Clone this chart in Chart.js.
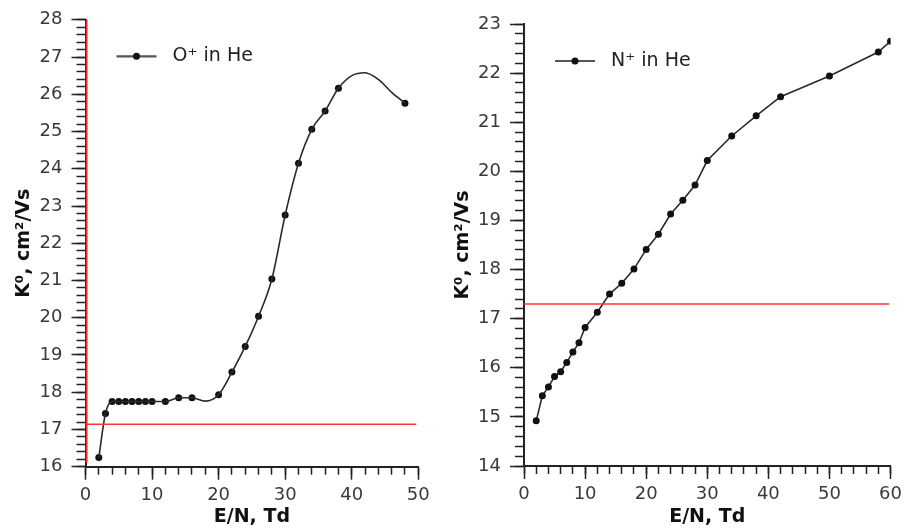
<!DOCTYPE html>
<html><head><meta charset="utf-8">
<script src="https://cdn.jsdelivr.net/npm/chart.js@4"></script>
<style>
html,body{margin:0;padding:0;background:#fff;width:907px;height:532px;overflow:hidden}
canvas{position:absolute;top:0}
#c1{left:0}
#c2{left:450px}
</style></head><body>
<canvas id="c1" width="450" height="532"></canvas>
<canvas id="c2" width="457" height="532"></canvas>
<script>
// ---------- Left panel: O+ in He ----------
const oxygenE = [2,3,4,5,6,7,8,9,10,12,14,16,20,22,24,26,28,30,32,34,36,38,48];
const oxygenK = [16.25,17.43,17.75,17.75,17.75,17.75,17.75,17.75,17.75,17.75,17.85,17.85,17.93,18.54,19.23,20.04,21.04,22.76,24.15,25.06,25.55,26.16,25.76];
// values read off the drawn smooth curve between markers (no marker there)
const oxygenCurveE = [18,40,42,44,46];
const oxygenCurveK = [17.76,26.5,26.58,26.4,26.05];
const oxygenRefK = [17.14,17.14];
const oxygenRefE = [0,49.7];
const oxygenVertE = [0.15,0.15];
const oxygenVertK = [16.1,28];
const leftXTicks = [0,10,20,30,40,50];
const leftYTicks = [16,17,18,19,20,21,22,23,24,25,26,27,28];

// ---------- Right panel: N+ in He ----------
const nitrogenE = [2,3,4,5,6,7,8,9,10,12,14,16,18,20,22,24,26,28,30,34,38,42,50,58,60];
const nitrogenK = [14.92,15.43,15.61,15.82,15.92,16.11,16.32,16.51,16.82,17.13,17.50,17.72,18.01,18.41,18.72,19.13,19.41,19.72,20.22,20.72,21.13,21.52,21.94,22.43,22.65];
const nitrogenRefK = [17.3,17.3];
const nitrogenRefE = [0,59.8];
const rightXTicks = [0,10,20,30,40,50,60];
const rightYTicks = [14,15,16,17,18,19,20,21,22,23];

// minor tick spacing per axis direction
const minorStepX = 2;
const minorStepY = 0.2;

const xyPairs = (xs, ys) => xs.map((x, i) => ({x, y: ys[i]}));
const merged = (xs1, ys1, xs2, ys2) => xyPairs(xs1, ys1).concat(xyPairs(xs2, ys2)).sort((a, b) => a.x - b.x);

Chart.defaults.font.family = '"DejaVu Sans", sans-serif';
Chart.defaults.animation = false;

function makeDecor(text, dy) {
  return {
    id: 'dec',
    afterDraw(chart) {
      const ctx = chart.ctx, a = chart.chartArea;
      const y = a.top + dy;
      ctx.save();
      ctx.strokeStyle = '#555';
      ctx.lineWidth = 2.2;
      ctx.beginPath(); ctx.moveTo(a.left + 31, y); ctx.lineTo(a.left + 71, y); ctx.stroke();
      ctx.fillStyle = '#111';
      ctx.beginPath(); ctx.arc(a.left + 51, y, 3.5, 0, Math.PI * 2); ctx.fill();
      ctx.font = '19px "DejaVu Sans"';
      ctx.fillStyle = '#222';
      ctx.textBaseline = 'middle';
      ctx.textAlign = 'left';
      ctx.fillText(text, a.left + 87, y);
      ctx.restore();
    }
  };
}

// main axis: labels + long major ticks (outer, weight 1)
function axisOpts(ticks, axis, fitSize, titleText, titlePad) {
  return {
    type: 'linear', position: axis === 'x' ? 'bottom' : 'left', weight: 1,
    min: ticks[0], max: ticks[ticks.length - 1],
    ticks: { stepSize: ticks[1] - ticks[0], color: '#3a3a3a', font: {size: 18}, padding: axis === 'x' ? 5 : 9 },
    grid: { drawOnChartArea: false, drawTicks: true, tickLength: axis === 'x' ? 13 : 14, tickColor: '#222', tickWidth: 1.5 },
    border: { color: '#222', width: 2 },
    title: { display: true, text: titleText, color: '#111', font: {size: 19, weight: 'bold'}, padding: titlePad },
    afterFit: (s) => { if (axis === 'x') s.height = fitSize; else s.width = fitSize; }
  };
}

// minor axis: same range, zero thickness, short unlabeled ticks next to the plot (inner, weight 0)
function minorAxisOpts(ticks, axis, step) {
  const min = ticks[0], max = ticks[ticks.length - 1];
  return {
    type: 'linear', position: axis === 'x' ? 'bottom' : 'left', weight: 0, display: true,
    min: min, max: max,
    ticks: { display: false, autoSkip: false, count: Math.round((max - min) / step) + 1 },
    grid: { drawOnChartArea: false, drawTicks: true, tickLength: axis === 'x' ? 8 : 9, tickColor: '#222', tickWidth: 1.5 },
    border: { display: false },
    title: { display: false },
    afterFit: (s) => { if (axis === 'x') s.height = 0; else s.width = 0; }
  };
}

// Left chart
new Chart(document.getElementById('c1'), {
  type: 'scatter',
  data: {
    datasets: [
      { data: xyPairs(oxygenRefE, oxygenRefK), showLine: true, borderColor: '#ff3333', borderWidth: 1.5, pointRadius: 0 },
      { data: xyPairs(oxygenVertE, oxygenVertK), showLine: true, borderColor: '#ff2222', borderWidth: 2, pointRadius: 0 },
      { data: merged(oxygenE, oxygenK, oxygenCurveE, oxygenCurveK), showLine: true, borderColor: '#2a2a2a', borderWidth: 1.6, pointRadius: 0, cubicInterpolationMode: 'monotone' },
      { data: xyPairs(oxygenE, oxygenK), showLine: false, pointRadius: 3.5, pointBackgroundColor: '#111', pointBorderWidth: 0 }
    ]
  },
  options: {
    responsive: false, devicePixelRatio: 1,
    layout: { padding: { top: 18, right: 31.7, left: 0, bottom: 0 } },
    scales: {
      x: axisOpts(leftXTicks, 'x', 65.3, 'E/N, Td', {top: 0, bottom: 4}),
      y: axisOpts(leftYTicks, 'y', 85.5, 'K⁰, cm²/Vs', {top: 12.6, bottom: 0}),
      xMinor: minorAxisOpts(leftXTicks, 'x', minorStepX),
      yMinor: minorAxisOpts(leftYTicks, 'y', minorStepY)
    },
    plugins: { legend: { display: false }, tooltip: { enabled: false } }
  },
  plugins: [makeDecor('O⁺ in He', 36.5)]
});

// Right chart
new Chart(document.getElementById('c2'), {
  type: 'scatter',
  data: {
    datasets: [
      { data: xyPairs(nitrogenRefE, nitrogenRefK), showLine: true, borderColor: '#ff3333', borderWidth: 1.5, pointRadius: 0 },
      { data: xyPairs(nitrogenE, nitrogenK), showLine: true, borderColor: '#2a2a2a', borderWidth: 1.6, pointRadius: 3.5, pointBackgroundColor: '#111', pointBorderWidth: 0, tension: 0, clip: 0 }
    ]
  },
  options: {
    responsive: false, devicePixelRatio: 1,
    layout: { padding: { top: 24, right: 13.7, left: 0, bottom: 0 } },
    scales: {
      x: axisOpts(rightXTicks, 'x', 66, 'E/N, Td', {top: 0, bottom: 4}),
      y: axisOpts(rightYTicks, 'y', 74, 'K⁰, cm²/Vs', {top: 1.6, bottom: 0}),
      xMinor: minorAxisOpts(rightXTicks, 'x', minorStepX),
      yMinor: minorAxisOpts(rightYTicks, 'y', minorStepY)
    },
    plugins: { legend: { display: false }, tooltip: { enabled: false } }
  },
  plugins: [makeDecor('N⁺ in He', 37)]
});
</script>
</body></html>
